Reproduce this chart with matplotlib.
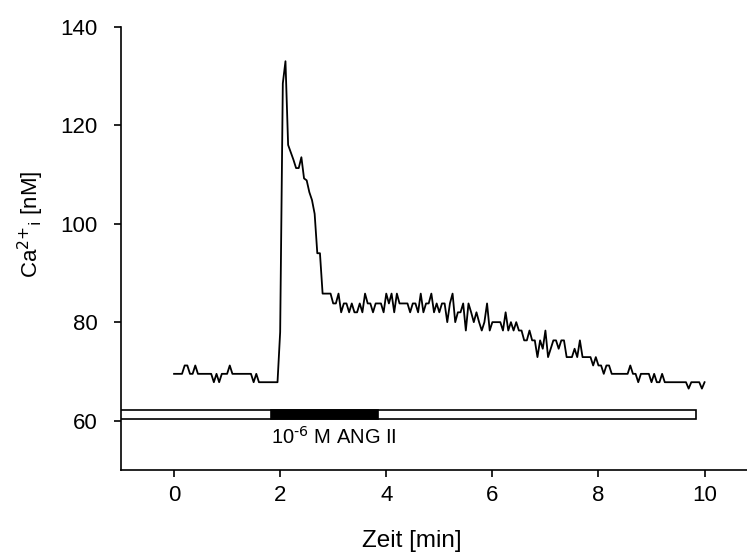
"""
Intracellular Ca2+ trace after 10^-6 M angiotensin II stimulation.
"""

import numpy as np
import matplotlib
matplotlib.use("Agg")
import matplotlib.pyplot as plt
from matplotlib.patches import Rectangle

plt.rcParams["font.family"] = ["Liberation Sans", "DejaVu Sans"]
plt.rcParams["mathtext.default"] = "regular"

# ---------------------------------------------------------------------------
# Data (read off the figure), sampled every 0.05 min
# ---------------------------------------------------------------------------
SAMPLE_DT = 0.05  # min

ca_values = [
    # 0.00 - 0.95 min
    69.5, 69.5, 69.5, 69.5, 71.2, 71.2, 69.5, 69.5, 71.2, 69.5,
    69.5, 69.5, 69.5, 69.5, 69.5, 67.8, 69.5, 67.8, 69.5, 69.5,
    # 1.00 - 1.95
    69.5, 71.2, 69.5, 69.5, 69.5, 69.5, 69.5, 69.5, 69.5, 69.5,
    67.8, 69.5, 67.8, 67.8, 67.8, 67.8, 67.8, 67.8, 67.8, 67.8,
    # 2.00 - 2.95
    78.0, 128.5, 133.0, 116.0, 114.5, 113.0, 111.3, 111.3, 113.5, 109.2,
    108.8, 106.4, 104.8, 102.0, 94.0, 94.0, 85.8, 85.8, 85.8, 85.8,
    # 3.00 - 3.95
    83.8, 83.8, 85.8, 82.0, 83.8, 83.8, 82.0, 83.8, 82.0, 82.0,
    83.8, 82.0, 85.8, 83.8, 83.8, 82.0, 83.8, 83.8, 83.8, 82.0,
    # 4.00 - 4.95
    85.8, 83.8, 85.8, 82.0, 85.8, 83.8, 83.8, 83.8, 83.8, 82.0,
    83.8, 83.8, 82.0, 85.8, 82.0, 83.8, 83.8, 85.8, 82.0, 83.8,
    # 5.00 - 5.95
    82.0, 83.8, 83.8, 80.0, 83.8, 85.8, 80.0, 82.0, 82.0, 83.8,
    78.3, 83.8, 82.0, 80.0, 82.0, 80.0, 78.3, 80.0, 83.8, 78.3,
    # 6.00 - 6.95
    80.0, 80.0, 80.0, 80.0, 78.3, 82.0, 78.3, 80.0, 78.3, 80.0,
    78.3, 78.3, 76.3, 76.3, 78.3, 76.3, 76.3, 72.9, 76.3, 74.6,
    # 7.00 - 7.95
    78.3, 72.9, 74.6, 76.3, 76.3, 74.6, 76.3, 76.3, 72.9, 72.9,
    72.9, 74.6, 72.9, 76.3, 72.9, 72.9, 72.9, 72.9, 71.2, 72.9,
    # 8.00 - 8.95
    71.2, 71.2, 69.5, 71.2, 71.2, 69.5, 69.5, 69.5, 69.5, 69.5,
    69.5, 69.5, 71.2, 69.5, 69.5, 67.8, 69.5, 69.5, 69.5, 69.5,
    # 9.00 - 10.00
    67.8, 69.5, 67.8, 67.8, 69.5, 67.8, 67.8, 67.8, 67.8, 67.8,
    67.8, 67.8, 67.8, 67.8, 66.5, 67.8, 67.8, 67.8, 67.8, 66.5,
    67.8,
]

# perfusion bar: whole recording, with agonist window filled black
bar_start, bar_end = -1.0, 9.83
stim_start, stim_end = 1.83, 3.85
bar_low, bar_high = 60.3, 62.1
stim_label = r"10$^{\text{-6}}$ M ANG II"

x_ticks = [0, 2, 4, 6, 8, 10]
y_ticks = [60, 80, 100, 120, 140]

# ---------------------------------------------------------------------------
fig = plt.figure(figsize=(7.47, 5.58), dpi=100)
ax = fig.add_axes([0.162, 0.158, 0.838, 0.794])

t = np.arange(len(ca_values)) * SAMPLE_DT
ax.plot(t, ca_values, color="black", linewidth=1.3)

# perfusion bar
ax.add_patch(Rectangle((bar_start, bar_low), bar_end - bar_start,
                       bar_high - bar_low, facecolor="white",
                       edgecolor="black", linewidth=1.2, zorder=3))
ax.add_patch(Rectangle((stim_start, bar_low), stim_end - stim_start,
                       bar_high - bar_low, facecolor="black",
                       edgecolor="black", linewidth=1.2, zorder=4))
ax.text(stim_start, 56.6, stim_label, fontsize=14.5, ha="left", va="center")

ax.set_xlim(-1, 10.8)
ax.set_ylim(50, 140)
ax.set_xticks(x_ticks)
ax.set_yticks(y_ticks)

for side in ("top", "right"):
    ax.spines[side].set_visible(False)
for side in ("left", "bottom"):
    ax.spines[side].set_linewidth(1.2)

ax.tick_params(direction="out", length=5, width=1.2, labelsize=16)
ax.tick_params(axis="y", pad=12)
ax.tick_params(axis="x", pad=6)
ax.set_xlabel("Zeit [min]", fontsize=17.5)
ax.set_ylabel(r"Ca$^{\text{2+}}$$_{\text{i}}$ [nM]", fontsize=16)
ax.xaxis.set_label_coords(0.465, -0.135)
ax.yaxis.set_label_coords(-0.12, 0.553)

fig.savefig("out.png", dpi=100)
